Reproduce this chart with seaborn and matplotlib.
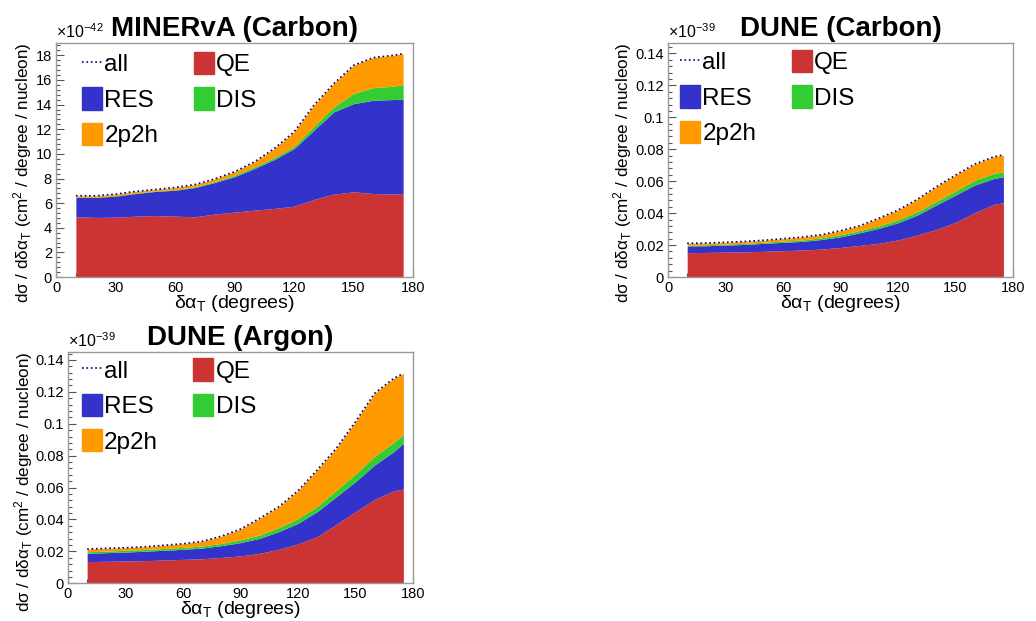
import numpy as np
import matplotlib
matplotlib.use('Agg')
import matplotlib.pyplot as plt
import seaborn as sns
from matplotlib.patches import Patch
from matplotlib.lines import Line2D
from matplotlib.ticker import MultipleLocator, FormatStrFormatter

# delta alpha_T bin positions (degrees)
angle = [10, 20, 30, 40, 50, 60, 70, 80, 90, 100, 110, 120, 130, 140, 150, 160, 170, 175]

# MINERvA (Carbon), units of 1e-42
minerva_qe = [4.89, 4.84, 4.86, 4.94, 4.99, 4.94, 4.89, 5.11, 5.27, 5.43, 5.57, 5.75, 6.30, 6.73, 6.92, 6.78, 6.73, 6.78]
minerva_res = [1.57, 1.62, 1.71, 1.84, 1.96, 2.11, 2.38, 2.57, 2.88, 3.38, 3.97, 4.68, 5.62, 6.68, 7.16, 7.58, 7.68, 7.66]
minerva_dis = [0.04, 0.04, 0.04, 0.04, 0.05, 0.05, 0.06, 0.08, 0.12, 0.14, 0.16, 0.17, 0.32, 0.40, 0.82, 1.02, 1.08, 1.19]
minerva_2p2h = [0.10, 0.10, 0.12, 0.13, 0.11, 0.17, 0.18, 0.21, 0.28, 0.40, 0.73, 1.18, 1.71, 1.89, 2.29, 2.44, 2.51, 2.51]

# DUNE (Carbon), units of 1e-39
dunec_qe = [0.0152, 0.0154, 0.0156, 0.0158, 0.0161, 0.0165, 0.0169, 0.0175, 0.0185, 0.0198, 0.0211, 0.0232, 0.0263, 0.0298, 0.0342, 0.0403, 0.0455, 0.0465]
dunec_res = [0.0042, 0.0042, 0.0044, 0.0046, 0.0050, 0.0052, 0.0054, 0.0060, 0.0067, 0.0079, 0.0094, 0.0108, 0.0125, 0.0153, 0.0171, 0.0173, 0.0162, 0.0163]
dunec_dis = [0.0006, 0.0006, 0.0006, 0.0007, 0.0007, 0.0008, 0.0009, 0.0011, 0.0013, 0.0014, 0.0015, 0.0018, 0.0021, 0.0022, 0.0026, 0.0030, 0.0032, 0.0030]
dunec_2p2h = [0.0011, 0.0011, 0.0011, 0.0012, 0.0012, 0.0015, 0.0018, 0.0019, 0.0025, 0.0030, 0.0048, 0.0061, 0.0077, 0.0092, 0.0099, 0.0101, 0.0104, 0.0106]

# DUNE (Argon), units of 1e-39
dunea_qe = [0.0136, 0.0138, 0.0140, 0.0142, 0.0146, 0.0150, 0.0154, 0.0162, 0.0172, 0.0188, 0.0213, 0.0247, 0.0292, 0.0370, 0.0449, 0.0526, 0.0579, 0.0591]
dunea_res = [0.0052, 0.0054, 0.0056, 0.0059, 0.0061, 0.0063, 0.0067, 0.0074, 0.0083, 0.0094, 0.0111, 0.0129, 0.0157, 0.0173, 0.0188, 0.0216, 0.0247, 0.0287]
dunea_dis = [0.0010, 0.0010, 0.0011, 0.0011, 0.0011, 0.0012, 0.0013, 0.0014, 0.0017, 0.0021, 0.0025, 0.0029, 0.0033, 0.0040, 0.0048, 0.0054, 0.0058, 0.0056]
dunea_2p2h = [0.0017, 0.0017, 0.0016, 0.0017, 0.0020, 0.0023, 0.0029, 0.0045, 0.0068, 0.0104, 0.0131, 0.0175, 0.0228, 0.0263, 0.0328, 0.0395, 0.0401, 0.0382]

sns.set_style('white')
plt.rcParams['font.family'] = ['Liberation Sans', 'DejaVu Sans']
plt.rcParams['mathtext.fontset'] = 'custom'
plt.rcParams['mathtext.rm'] = 'Liberation Sans'
plt.rcParams['mathtext.it'] = 'Liberation Sans:italic'
plt.rcParams['mathtext.bf'] = 'Liberation Sans:bold'
for k in ['text.color', 'axes.labelcolor', 'xtick.labelcolor', 'ytick.labelcolor']:
    plt.rcParams[k] = 'black'

colors = ['#cc3333', '#3333cc', '#33cc33', '#ff9900']
ylab = 'dσ / dδα$_\\mathregular{T}$ (cm$^\\mathregular{2}$ / degree / nucleon)'
xlab = 'δα$_\\mathregular{T}$ (degrees)'

fig = plt.figure(figsize=(10.36, 6.21), dpi=100)


def stack_panel(rect, title, comps, ymax, ymaj, ymin, expo, ylab_x, leg_anchor):
    ax = fig.add_axes(rect)
    ax.stackplot(angle, *comps, colors=colors, linewidth=0)
    total = np.sum(comps, axis=0)
    sns.lineplot(x=angle, y=total, ax=ax, color='#000080',
                 linestyle=':', linewidth=1.2, zorder=5)

    ax.set_xlim(0, 180)
    ax.set_ylim(0, ymax)
    ax.xaxis.set_major_locator(MultipleLocator(30))
    ax.xaxis.set_minor_locator(MultipleLocator(10))
    ax.yaxis.set_major_locator(MultipleLocator(ymaj))
    ax.yaxis.set_minor_locator(MultipleLocator(ymin))
    ax.yaxis.set_major_formatter(FormatStrFormatter('%g'))
    ax.tick_params(which='both', direction='in', bottom=True, left=True,
                   top=False, right=False, color='#555555', width=0.8,
                   labelsize=10.5, pad=3)
    ax.tick_params(which='major', length=5.5)
    ax.tick_params(which='minor', length=2.8)
    for sp in ax.spines.values():
        sp.set_color('#999999')
        sp.set_linewidth(1.0)

    ax.set_title(title, fontsize=20, fontweight='bold', pad=5, color='black')
    ax.set_xlabel(xlab, fontsize=14)
    ax.xaxis.set_label_coords(0.5, -0.07)
    ax.set_ylabel(ylab, fontsize=12.3, loc='top')
    ax.yaxis.set_label_coords(ylab_x, 1.0)
    ax.annotate('×10$^{\\mathregular{' + expo + '}}$', xy=(0, 1), xycoords='axes fraction',
                xytext=(0, 3.5), textcoords='offset points', fontsize=11.5,
                ha='left', va='baseline')

    h_all = Line2D([], [], color='#000080', linestyle=':', linewidth=1.2)
    patches = [Patch(facecolor=c, edgecolor=c, linewidth=1, joinstyle='round') for c in colors]
    handles = [h_all, patches[1], patches[3], patches[0], patches[2]]
    labels = ['all', 'RES', '2p2h', 'QE', 'DIS']
    ax.legend(handles, labels, ncol=2, loc='upper left', bbox_to_anchor=leg_anchor,
              frameon=False, fontsize=17.5, handlelength=0.82, handleheight=1.03,
              handletextpad=0.1, labelspacing=0.45, columnspacing=1.45,
              borderpad=0, borderaxespad=0)
    return ax


stack_panel([0.0541, 0.5539, 0.3446, 0.3768], 'MINERvA (Carbon)',
            [minerva_qe, minerva_res, minerva_dis, minerva_2p2h],
            19.0, 2, 0.4, '−42', -0.062, (0.073, 0.962))

stack_panel([0.6448, 0.5539, 0.3330, 0.3768], 'DUNE (Carbon)',
            [dunec_qe, dunec_res, dunec_dis, dunec_2p2h],
            0.1465, 0.02, 0.004, '−39', -0.099, (0.035, 0.97))

stack_panel([0.0656, 0.0607, 0.3330, 0.3725], 'DUNE (Argon)',
            [dunea_qe, dunea_res, dunea_dis, dunea_2p2h],
            0.145, 0.02, 0.004, '−39', -0.096, (0.04, 0.972))

fig.savefig('out.png', dpi=100)
